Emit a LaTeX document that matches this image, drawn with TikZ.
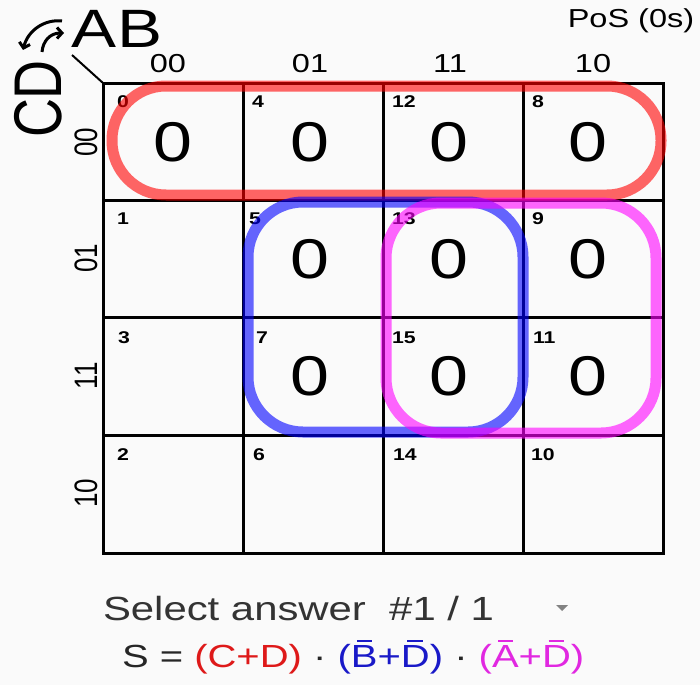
\documentclass[tikz,border=0pt]{standalone}
\usepackage{fontspec}
\setmainfont{Liberation Sans}
\usetikzlibrary{arrows.meta}
\definecolor{bg}{RGB}{250,250,250}
\definecolor{fred}{RGB}{222,25,25}
\definecolor{fblue}{RGB}{25,25,200}
\definecolor{fmag}{RGB}{225,40,225}
\definecolor{gred}{RGB}{255,0,0}
\definecolor{gblue}{RGB}{0,0,255}
\definecolor{gmag}{RGB}{255,0,255}
\definecolor{tri}{RGB}{130,130,130}
\newcommand\fsz[1]{\fontsize{#1}{#1}\selectfont}
\newcommand\HT[2]{\scalebox{1.25}[1]{\fsz{#1}#2}}
\newcommand\VT[2]{\scalebox{1}[1.25]{\fsz{#1}#2}}
\newcommand\ob[1]{\setbox0\hbox{#1}\makebox[0pt][l]{\makebox[\wd0]{\rule[\dimexpr\ht0+0.1em\relax]{0.55\wd0}{0.075em}}}#1}
\begin{document}
\begin{tikzpicture}[x=1pt,y=-1pt,
  gridline/.style={line width=3pt,black},
  grp/.style={line width=11pt,opacity=0.6},
  txt/.style={inner sep=0pt,outer sep=0pt,text=black},
  cellnum/.style={txt,anchor=west,font=\bfseries},
  arr/.style={line width=3pt,-{Straight Barb[length=5pt,width=11pt]}}]
\path[fill=bg] (0,0) rectangle (700,685);
\useasboundingbox (0,0) rectangle (700,685);
% grid
\draw[gridline] (103,83) rectangle (663,553);
\foreach \x in {243,383,523} \draw[gridline] (\x,83) -- (\x,553);
\foreach \y in {200,317,435} \draw[gridline] (103,\y) -- (663,\y);
% corner labels
\node[txt] (AB) at (117,29) {\HT{54}{AB}};
\node[txt,rotate=90] (CD) at (38,99) {\VT{54}{CD}};
\coordinate (diagA) at (72,55);
\coordinate (diagB) at (103,83);
\draw[line width=2pt] (diagA) -- (diagB);
\coordinate (a1s) at (62,21);
\coordinate (a1e) at (23,50);
\coordinate (a2s) at (42,52);
\coordinate (a2e) at (64,33);
\draw[arr] (a1s) .. controls (45,19) and (28,30) .. (a1e);
\draw[arr] (a2s) .. controls (43,41) and (50,33) .. (a2e);
\node[txt] (pos) at (631,21) {\HT{26}{PoS (0s)}};
% column headers
\node[txt] (h00) at (168,64) {\HT{26}{00}};
\node[txt] (h01) at (310,64) {\HT{26}{01}};
\node[txt] (h11) at (450,64) {\HT{26}{11}};
\node[txt] (h10) at (593,64) {\HT{26}{10}};
% row headers
\node[txt,rotate=90] (r00) at (86,142) {\VT{26}{00}};
\node[txt,rotate=90] (r01) at (86,258) {\VT{26}{01}};
\node[txt,rotate=90] (r11) at (86,376) {\VT{26}{11}};
\node[txt,rotate=90] (r10) at (86,493) {\VT{26}{10}};
% cell numbers
\node[cellnum] (n0) at (117,102) {\HT{17}{0}};
\node[cellnum] (n4) at (252,102) {\HT{17}{4}};
\node[cellnum] (n12) at (392,102) {\HT{17}{12}};
\node[cellnum] (n8) at (532,102) {\HT{17}{8}};
\node[cellnum] (n1) at (117,219) {\HT{17}{1}};
\node[cellnum] (n5) at (249,219) {\HT{17}{5}};
\node[cellnum] (n13) at (392,219) {\HT{17}{13}};
\node[cellnum] (n9) at (532,219) {\HT{17}{9}};
\node[cellnum] (n3) at (118,338) {\HT{17}{3}};
\node[cellnum] (n7) at (256,338) {\HT{17}{7}};
\node[cellnum] (n15) at (392,338) {\HT{17}{15}};
\node[cellnum] (n11) at (533,338) {\HT{17}{11}};
\node[cellnum] (n2) at (117,455) {\HT{17}{2}};
\node[cellnum] (n6) at (253,455) {\HT{17}{6}};
\node[cellnum] (n14) at (393,455) {\HT{17}{14}};
\node[cellnum] (n10) at (531,455) {\HT{17}{10}};
% zeros
\node[txt] (z0) at (173,142) {\HT{56}{0}};
\node[txt] (z4) at (310,142) {\HT{56}{0}};
\node[txt] (z12) at (449,142) {\HT{56}{0}};
\node[txt] (z8) at (588,142) {\HT{56}{0}};
\node[txt] (z5) at (310,259) {\HT{56}{0}};
\node[txt] (z13) at (449,259) {\HT{56}{0}};
\node[txt] (z9) at (588,259) {\HT{56}{0}};
\node[txt] (z7) at (310,376) {\HT{56}{0}};
\node[txt] (z15) at (449,376) {\HT{56}{0}};
\node[txt] (z11) at (588,376) {\HT{56}{0}};
% groups
\draw[grp,gred,rounded corners=54pt] (112,86) rectangle (661,195);
\draw[grp,gblue,rounded corners=55pt] (248,202) rectangle (523,432);
\draw[grp,gmag,rounded corners=55pt] (386,203) rectangle (656,433);
% answer
\node[txt,anchor=west,text=black!80] (sel) at (103,609) {\HT{33.5}{Select answer\ \ \#1 / 1}};
\fill[tri] (556,605) -- (568,605) -- (562,611) -- cycle;
\node[txt,anchor=west,text=black!85] (eq) at (122,657) {\HT{32}{S = \textcolor{fred}{(C+D)} · \textcolor{fblue}{(\ob{B}+\ob{D})} · \textcolor{fmag}{(\ob{A}+\ob{D})}}};
\end{tikzpicture}
\end{document}
